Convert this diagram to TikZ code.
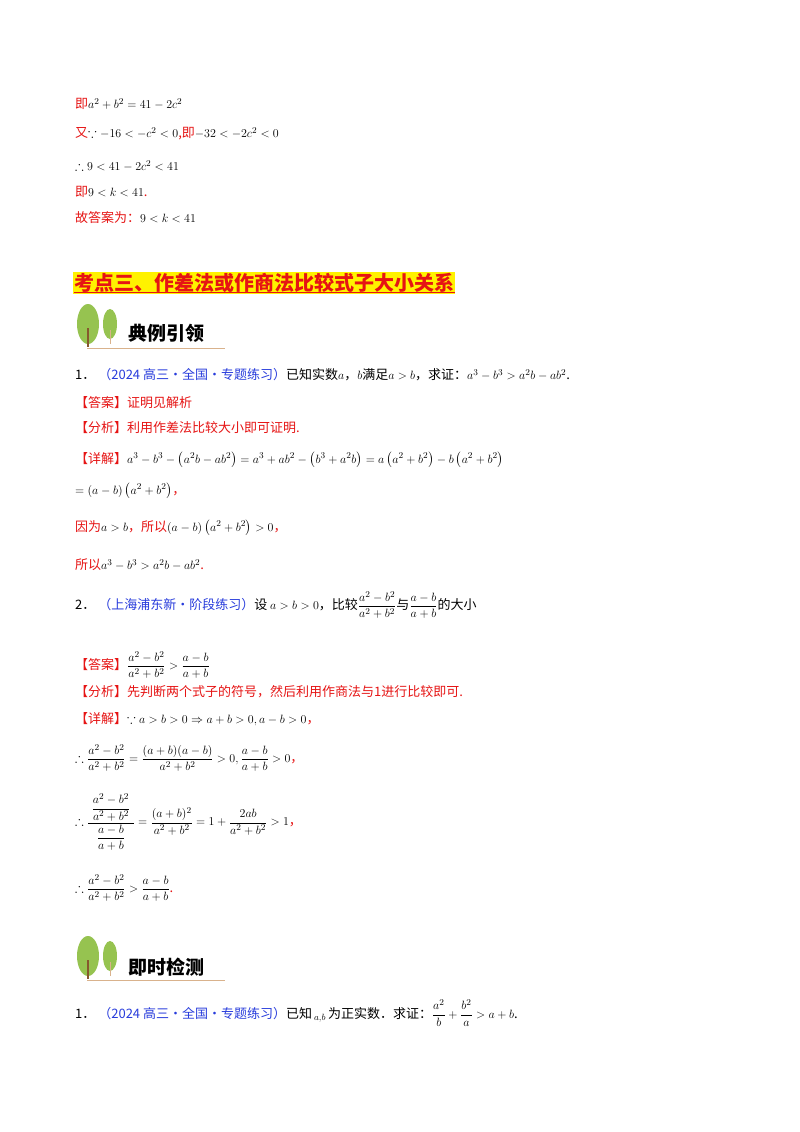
\documentclass[tikz,border=0pt]{standalone}
\usepackage{fontspec}
\usepackage{amsmath,amssymb}
\setmainfont{Noto Sans CJK SC}
\definecolor{rd}{RGB}{230,20,20}
\definecolor{bl}{RGB}{40,60,220}
\definecolor{lf}{RGB}{150,195,80}
\begin{document}
\begin{tikzpicture}[x=1pt,y=-1pt,
  t/.style={anchor=west,inner sep=0pt,font=\fontsize{13}{15}\selectfont},
  banner/.style={anchor=west,inner sep=0pt,font=\fontsize{19}{21}\selectfont\bfseries}]
\useasboundingbox[fill=white] (0,0) rectangle (800,1132);
\newcommand\tree[2]{%
 \fill[lf] (#1+13,#2-6) ellipse (11 and 20);
 \draw[brown!70!black,line width=1.2] (#1+13,#2-2)--(#1+13,#2+17);
 \fill[lf] (#1+35,#2-6) ellipse (7 and 15);
 \draw[brown!60,line width=1] (#1+35,#2)--(#1+35,#2+14);
 \draw[brown!60,line width=1] (#1+12,#2+18)--(#1+150,#2+18);}
\node[t] (l1) at (75,104) {\textcolor{rd}{即}$a^2+b^2=41-2c^2$};
\node[t] (l2) at (75,134) {\textcolor{rd}{又}$\because -16<-c^2<0$\textcolor{rd}{,即}$-32<-2c^2<0$};
\node[t] (l3) at (75,166) {$\therefore 9<41-2c^2<41$};
\node[t] (l4) at (75,192) {\textcolor{rd}{即}$9<k<41$\textcolor{rd}{.}};
\node[t] (l5) at (75,218) {\textcolor{rd}{故答案为：}$9<k<41$};
\node[anchor=west,inner sep=1pt,fill=yellow,text=rd,font=\fontsize{20}{22}\selectfont\bfseries] (h) at (73,283) {考点三、作差法或作商法比较式子大小关系};
\draw[rd,line width=1] (h.south west)++(1,-1) -- ([yshift=1]h.south east);
\tree{75}{330}
\node[banner] (b1) at (128,333) {典例引领};
\node[t] (q1) at (75,375) {1．\ \textcolor{bl}{（2024 高三·全国·专题练习）}已知实数$a$，$b$满足$a>b$，求证：$a^3-b^3>a^2b-ab^2$.};
\node[t] (a1) at (75,403) {\textcolor{rd}{【答案】证明见解析}};
\node[t] (f1) at (75,428) {\textcolor{rd}{【分析】利用作差法比较大小即可证明.}};
\node[t] (d1) at (75,460) {\textcolor{rd}{【详解】}$a^3-b^3-\left(a^2b-ab^2\right)=a^3+ab^2-\left(b^3+a^2b\right)=a\left(a^2+b^2\right)-b\left(a^2+b^2\right)$};
\node[t] (d2) at (75,491) {$=(a-b)\left(a^2+b^2\right)$\textcolor{rd}{，}};
\node[t] (d3) at (75,528) {\textcolor{rd}{因为}$a>b$\textcolor{rd}{，所以}$(a-b)\left(a^2+b^2\right)>0$\textcolor{rd}{，}};
\node[t] (d4) at (75,565) {\textcolor{rd}{所以}$a^3-b^3>a^2b-ab^2$\textcolor{rd}{.}};
\node[t] (q2) at (75,605) {2．\ \textcolor{bl}{（上海浦东新·阶段练习）}设\ $a>b>0$，比较$\dfrac{a^2-b^2}{a^2+b^2}$与$\dfrac{a-b}{a+b}$的大小};
\node[t] (a2) at (75,665) {\textcolor{rd}{【答案】}$\dfrac{a^2-b^2}{a^2+b^2}>\dfrac{a-b}{a+b}$};
\node[t] (f2) at (75,692) {\textcolor{rd}{【分析】先判断两个式子的符号，然后利用作商法与1进行比较即可.}};
\node[t] (e1) at (75,719) {\textcolor{rd}{【详解】}$\because a>b>0\Rightarrow a+b>0,a-b>0$\textcolor{rd}{，}};
\node[t] (e2) at (75,758) {$\therefore\dfrac{a^2-b^2}{a^2+b^2}=\dfrac{(a+b)(a-b)}{a^2+b^2}>0,\dfrac{a-b}{a+b}>0$\textcolor{rd}{，}};
\node[t] (e3) at (75,822) {$\therefore\dfrac{\;\dfrac{a^2-b^2}{a^2+b^2}\;}{\dfrac{a-b}{a+b}}=\dfrac{(a+b)^2}{a^2+b^2}=1+\dfrac{2ab}{a^2+b^2}>1$\textcolor{rd}{，}};
\node[t] (e4) at (75,888) {$\therefore\dfrac{a^2-b^2}{a^2+b^2}>\dfrac{a-b}{a+b}$\textcolor{rd}{.}};
\tree{75}{962}
\node[banner] (b2) at (128,967) {即时检测};
\node[t] (q3) at (75,1013) {1．\ \textcolor{bl}{（2024 高三·全国·专题练习）}已知$\,{}_{a,b}\,$为正实数．求证：$\dfrac{a^2}{b}+\dfrac{b^2}{a}>a+b$.};
\end{tikzpicture}
\end{document}
